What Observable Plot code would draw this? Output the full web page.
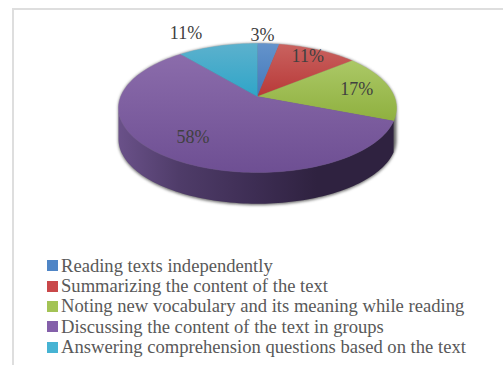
<!DOCTYPE html>
<html>
<head>
<meta charset="utf-8">
<script src="https://cdn.jsdelivr.net/npm/d3@7"></script>
<script src="https://cdn.jsdelivr.net/npm/@observablehq/plot@0.6"></script>
<style>
  html, body { margin: 0; padding: 0; background: #fff; overflow: hidden; }
  #page { position: relative; width: 503px; height: 365px; overflow: hidden; }
  #frame { position: absolute; left: 12px; top: 8px; width: 600px; height: 500px;
           border-left: 2px solid #dedede; border-top: 2px solid #dedede; }
  #chart { position: absolute; left: 0; top: 0; }
  #chart svg { display: block; }
  #legend { position: absolute; left: 47px; top: 255.5px;
            font: 18.6px "Liberation Serif", serif; color: #595959; }
  .row { display: flex; align-items: center; height: 20.4px; white-space: nowrap; }
  .swatch { width: 11px; height: 11px; margin-right: 3px; flex: none; }
</style>
</head>
<body>
<div id="page">
  <div id="frame"></div>
  <div id="chart"></div>
  <div id="legend"></div>
</div>
<script>
// Share of students per reading activity, in percent
const activities = [
  "Reading texts independently",
  "Summarizing the content of the text",
  "Noting new vocabulary and its meaning while reading",
  "Discussing the content of the text in groups",
  "Answering comprehension questions based on the text"
];
const shares = [3, 11, 17, 58, 11];

// Office-style palette: swatch colour, then top and bottom of each slice gradient
const swatchColors = ["#4f85c6", "#c9484a", "#a3c355", "#8460aa", "#46b3d3"];
const gradientTop = ["#6493cb", "#c9625f", "#abc866", "#8b6cab", "#5cb1cd"];
const gradientBottom = ["#4279ba", "#b83938", "#8fb03f", "#6e4f93", "#2fa5c8"];

// Radial distance and angular nudge (degrees) of each percent label
const labelRadius = [1.19, 0.84, 0.75, 0.72, 1.39];
const labelNudge = [-3.3, -1, 0, 0, -7.5];

// Tilted disc: the far edge is foreshortened relative to the near edge
const tilt = 0.178;
const widthFit = Math.sqrt(1 - tilt * tilt);
const wallDepth = 0.5;

function project(deg, r = 1) {
  const a = deg * Math.PI / 180;
  const u = r * Math.sin(a), v = r * Math.cos(a), w = 1 + tilt * v;
  return {x: widthFit * u / w, y: v / w};
}
function arc(from, to) {
  const n = Math.max(2, Math.ceil(Math.abs(to - from) / 1.5));
  return d3.range(n + 1).map(i => from + (to - from) * i / n);
}

// Angular extent of each slice, clockwise from twelve o'clock
const total = d3.sum(shares);
const cumulative = d3.cumsum(shares);
const slices = activities.map((name, i) => {
  const end = cumulative[i] / total * 360;
  const start = end - shares[i] / total * 360;
  return {name, share: shares[i], start, end, mid: (start + end) / 2, i};
});

const slicePath = s => [{x: 0, y: 0}, ...arc(s.start, s.end).map(d => project(d))];

// The wall is only visible along the near side of the largest slice
const big = slices[3];
const nearEnd = 360 - 100.3;
const wallTop = arc(big.start, nearEnd).map(d => project(d));
const wallBottom = arc(nearEnd, big.start).map(d => {
  const p = project(d);
  return {x: p.x, y: p.y - wallDepth};
});
const wall = [...wallTop, ...wallBottom];
const shadow = arc(100.3, nearEnd).map(d => {
  const p = project(d);
  return {x: p.x, y: p.y - wallDepth - 0.02};
}).concat(arc(nearEnd, 100.3 + 360).map(d => project(d)));

const labels = slices.map((s, i) => {
  const p = project(s.mid + labelNudge[i], labelRadius[i]);
  return {...p, text: `${s.share}%`};
});

function gradients() {
  const defs = d3.create("svg:defs");
  slices.forEach((s, i) => {
    const g = defs.append("linearGradient").attr("id", `slice${i}`)
      .attr("x1", 0).attr("y1", 0).attr("x2", 0).attr("y2", 1);
    g.append("stop").attr("offset", 0).attr("stop-color", gradientTop[i]);
    g.append("stop").attr("offset", 1).attr("stop-color", gradientBottom[i]);
  });
  const w = defs.append("linearGradient").attr("id", "wall");
  [[0, "#6a5189"], [0.22, "#4f3c69"], [0.5, "#3d2d53"], [0.72, "#2f2240"], [1, "#2f2240"]]
    .forEach(([o, c]) => w.append("stop").attr("offset", o).attr("stop-color", c));
  return defs.node();
}

const chart = Plot.plot({
  width: 503,
  height: 247,
  margin: 0,
  style: {background: "transparent"},
  x: {axis: null, domain: [-1, 1], range: [118, 396]},
  y: {axis: null, domain: [-1 / (1 - tilt), 1 / (1 + tilt)], range: [172, 43]},
  marks: [
    gradients,
    Plot.line(shadow, {x: "x", y: "y", fill: "#666", stroke: "none", imageFilter: "blur(1.5px)"}),
    Plot.line(wall, {x: "x", y: "y", fill: "url(#wall)", stroke: "none"}),
    ...slices.map((s, i) => Plot.line(slicePath(s), {
      x: "x", y: "y",
      fill: `url(#slice${i})`, stroke: `url(#slice${i})`, strokeWidth: 0.4
    })),
    Plot.text(labels, {
      x: "x", y: "y", text: "text",
      fontFamily: "Liberation Serif", fontSize: 18, fill: "#404040"
    })
  ]
});
document.getElementById("chart").append(chart);

const legend = d3.select("#legend");
activities.forEach((name, i) => {
  const row = legend.append("div").attr("class", "row");
  row.append("span").attr("class", "swatch").style("background", swatchColors[i]);
  row.append("span").text(name);
});
</script>
</body>
</html>
